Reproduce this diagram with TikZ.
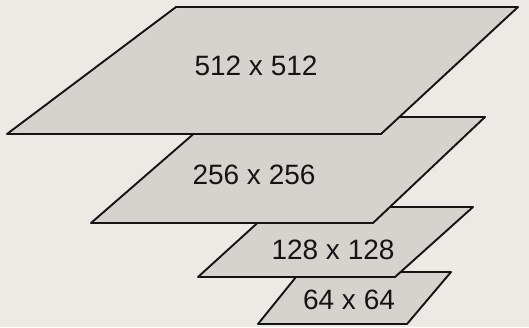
\documentclass[tikz,border=0pt]{standalone}
\usepackage{fontspec}
\setmainfont{Liberation Sans}
\definecolor{bgpaper}{RGB}{237,233,228}
\definecolor{layerfill}{RGB}{214,211,206}
\definecolor{inkline}{RGB}{20,20,20}
\begin{document}
\begin{tikzpicture}[x=1pt,y=-1pt,
  layer/.style={fill=layerfill,draw=inkline,line width=1.9pt,line join=round},
  lbl/.style={font=\fontsize{28}{33}\selectfont,text=inkline,inner sep=0pt}]
\fill[bgpaper] (0,0) rectangle (529,327);
\useasboundingbox (0,0) rectangle (529,327);
% 64 x 64
\draw[layer] (300,272) -- (451,272) -- (407,324) -- (258,324) -- cycle;
\node[lbl] (l64) at (349,300) {64 x 64};
% 128 x 128
\draw[layer] (275,207) -- (473,207) -- (395,277) -- (198,277) -- cycle;
\node[lbl] (l128) at (333,250) {128 x 128};
% 256 x 256
\draw[layer] (213,117) -- (485,117) -- (373,223) -- (91,223) -- cycle;
\node[lbl] (l256) at (254,175) {256 x 256};
% 512 x 512
\draw[layer] (176,7) -- (518,7) -- (381,134) -- (7,134) -- cycle;
\node[lbl] (l512) at (256,66) {512 x 512};
\end{tikzpicture}
\end{document}
